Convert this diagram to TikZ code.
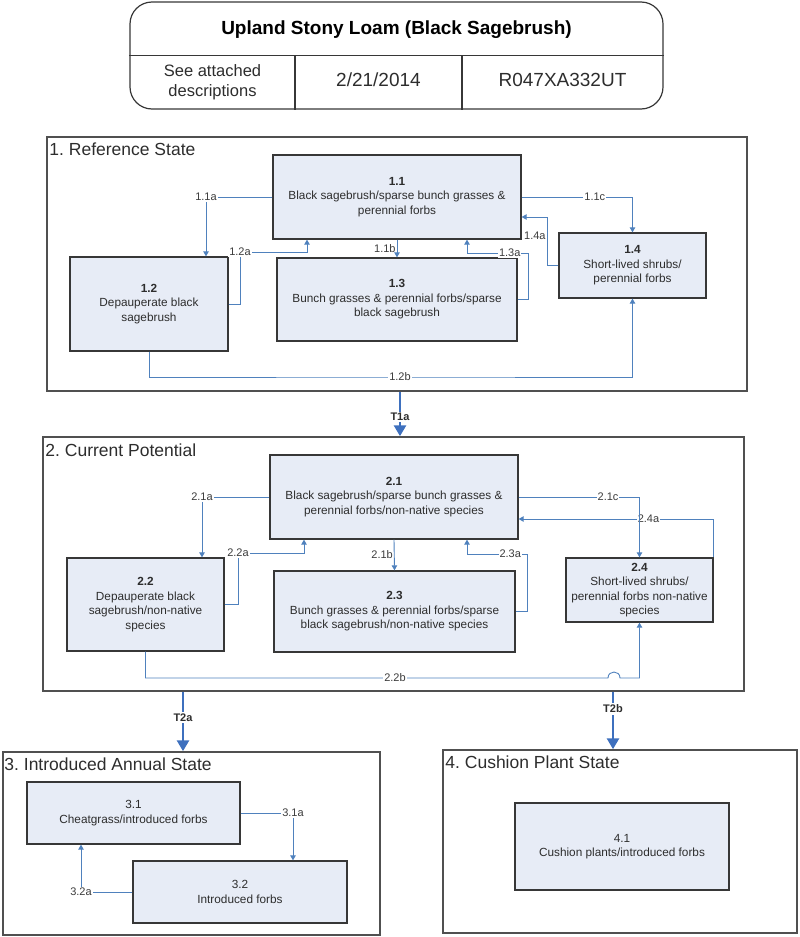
\documentclass[tikz,border=0pt]{standalone}
\usepackage{fontspec}
\setmainfont{Liberation Sans}
\usetikzlibrary{arrows.meta}
\definecolor{connc}{RGB}{79,129,189}
\definecolor{transc}{RGB}{62,112,190}
\definecolor{boxfill}{RGB}{231,236,246}
\definecolor{boxline}{RGB}{55,55,55}
\definecolor{stateline}{RGB}{80,80,80}
\definecolor{txt}{RGB}{45,45,45}
\definecolor{lbltxt}{RGB}{60,60,60}
\frenchspacing
\begin{document}
\begin{tikzpicture}[x=1pt,y=-1pt,
  boxst/.style={draw=boxline, fill=boxfill, line width=1.3pt, align=center, text=txt,
    font=\fontsize{11.8}{14.5}\selectfont, inner sep=2pt},
  statest/.style={draw=stateline, line width=1.5pt, inner sep=0pt},
  stitle/.style={anchor=west, font=\fontsize{17.5}{20}\selectfont, text=txt, inner sep=0pt},
  connst/.style={draw=connc, line width=0.9pt, -{Triangle[width=5.5pt,length=5pt]}},
  lbl/.style={fill=white, inner sep=1pt, font=\fontsize{11}{12}\selectfont, text=lbltxt},
  transst/.style={draw=transc, line width=2.8pt, -{Triangle[width=12pt,length=11pt]}},
  tlbl/.style={fill=white, inner sep=1.5pt, font=\bfseries\fontsize{11}{12}\selectfont, text=txt},
  hdrline/.style={draw=boxline, line width=1.2pt}]
\useasboundingbox (0,0) rectangle (800,937);

% header
\node[hdrline, rounded corners=22pt, minimum width=533pt, minimum height=107pt, inner sep=0pt] (hdr) at (396.5,55.5) {};
\draw[hdrline] (hdr.west) -- (hdr.east);
\coordinate (v1) at (295,55.5);
\coordinate (v2) at (462,55.5);
\draw[hdrline] (v1) -- (v1 |- hdr.south);
\draw[hdrline] (v2) -- (v2 |- hdr.south);
\node[font=\bfseries\fontsize{19}{22}\selectfont, text=black] (title) at (396.5,30) {Upland Stony Loam (Black Sagebrush)};
\node[align=center, font=\fontsize{16.5}{20}\selectfont, text=txt] (c1) at (212.5,82) {See attached\\descriptions};
\node[font=\fontsize{19}{22}\selectfont, text=txt] (c2) at (378.5,80) {2/21/2014};
\node[font=\fontsize{19}{22}\selectfont, text=txt] (c3) at (562.5,80) {R047XA332UT};

% states
\node[statest, minimum width=700pt, minimum height=254pt] (s1) at (397,264) {};
\node[statest, minimum width=701pt, minimum height=254pt] (s2) at (393.5,564) {};
\node[statest, minimum width=377pt, minimum height=183pt] (s3) at (191.5,843.5) {};
\node[statest, minimum width=354pt, minimum height=183pt] (s4) at (620,841.5) {};
\node[stitle] (t1) at ([xshift=3pt,yshift=-13pt]s1.north west) {1. Reference State};
\node[stitle] (t2) at ([xshift=3pt,yshift=-14pt]s2.north west) {2. Current Potential};
\node[stitle] (t3) at ([xshift=2pt,yshift=-13pt]s3.north west) {3. Introduced Annual State};
\node[stitle] (t4) at ([xshift=3pt,yshift=-13pt]s4.north west) {4. Cushion Plant State};

% community boxes
\node[boxst, minimum width=248pt, minimum height=84pt] (b11) at (397,197) {\textbf{1.1}\\Black sagebrush/sparse bunch grasses \&\\perennial forbs};
\node[boxst, minimum width=158pt, minimum height=94pt] (b12) at (149,304) {\textbf{1.2}\\Depauperate black\\sagebrush};
\node[boxst, minimum width=240pt, minimum height=83pt] (b13) at (397,299.5) {\textbf{1.3}\\Bunch grasses \& perennial forbs/sparse\\black sagebrush};
\node[boxst, minimum width=147pt, minimum height=65pt] (b14) at (632.5,265.5) {\textbf{1.4}\\Short-lived shrubs/\\perennial forbs};

\node[boxst, minimum width=248pt, minimum height=84pt] (b21) at (394,497) {\textbf{2.1}\\Black sagebrush/sparse bunch grasses \&\\perennial forbs/non-native species};
\node[boxst, minimum width=157pt, minimum height=93pt] (b22) at (145.5,604.5) {\textbf{2.2}\\Depauperate black\\sagebrush/non-native\\species};
\node[boxst, minimum width=241pt, minimum height=81pt] (b23) at (394.5,611.5) {\textbf{2.3}\\Bunch grasses \& perennial forbs/sparse\\black sagebrush/non-native species};
\node[boxst, minimum width=147pt, minimum height=64pt] (b24) at (639.5,590) {\textbf{2.4}\\Short-lived shrubs/\\perennial forbs non-native\\species};

\node[boxst, minimum width=213pt, minimum height=62pt] (b31) at (133.5,813) {3.1\\Cheatgrass/introduced forbs};
\node[boxst, minimum width=214pt, minimum height=62pt] (b32) at (240,892) {3.2\\Introduced forbs};
\node[boxst, minimum width=214pt, minimum height=87pt] (b41) at (622,846.5) {4.1\\Cushion plants/introduced forbs};

% state 1 connectors
\draw[connst] (b11.west) -| node[lbl]{1.1a} ([xshift=57pt]b12.north);
\draw[connst] (b12.east) -| (240,252) node[lbl]{1.2a} -| ([xshift=-90pt]b11.south);
\draw[connst] (b11.south) -- node[lbl, left=0pt, fill=none]{1.1b} (b13.north);
\draw[connst] (b13.east) -| (528,253) -| node[lbl, pos=0.15]{1.3a} ([xshift=70pt]b11.south);
\draw[connst] (b11.east) -| node[lbl, pos=0.33]{1.1c} (b14.north);
\draw[connst] (b14.west) -| node[lbl, pos=0.81, left=0pt, fill=none]{1.4a} (547,217) -- ([yshift=-20pt]b11.east);
\draw[connst] (b12.south) |- (400,377) node[lbl]{1.2b} -| (b14.south);

% state 2 connectors
\draw[connst] (b21.west) -| node[lbl]{2.1a} ([xshift=56.5pt]b22.north);
\draw[connst] (b22.east) -| (238,553) node[lbl]{2.2a} -| ([xshift=-90pt]b21.south);
\draw[connst] (b21.south) -- node[lbl, left=0pt, fill=none]{2.1b} (b23.north);
\draw[connst] (b23.east) -| (527,554) -| node[lbl, pos=0.14]{2.3a} ([xshift=73pt]b21.south);
\draw[connst] (b24.north east) |- node[lbl, pos=0.667]{2.4a} ([yshift=-22pt]b21.east);
\draw[connst] (b21.east) -| node[lbl, pos=0.37]{2.1c} (b24.north);
\draw[connst] (b22.south) |- (395,678) node[lbl]{2.2b} -- (608,678) .. controls (608,670) and (620,670) .. (620,678) -| (b24.south);

% state 3 connectors
\draw[connst] (b31.east) -| node[lbl]{3.1a} ([xshift=53pt]b32.north);
\draw[connst] (b32.west) -| node[lbl]{3.2a} ([xshift=-52.5pt]b31.south);

% transitions
\draw[transst] ([xshift=3pt]s1.south) -- node[tlbl, pos=0.57]{T1a} ([xshift=6.5pt]s2.north);
\draw[transst] ([xshift=-210.5pt]s2.south) -- node[tlbl, pos=0.43]{T2a} ([xshift=-8.5pt]s3.north);
\draw[transst] ([xshift=219.5pt]s2.south) -- node[tlbl, pos=0.3]{T2b} ([xshift=-7pt]s4.north);
\end{tikzpicture}
\end{document}
